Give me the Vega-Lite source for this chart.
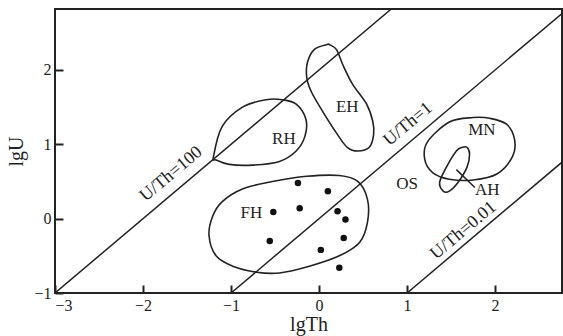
{
  "$schema": "https://vega.github.io/schema/vega-lite/v6.json",
  "autosize": "none",
  "width": 507,
  "height": 284,
  "padding": {"left": 55, "top": 9, "right": 1, "bottom": 43},
  "background": "white",
  "config": {
    "view": {"stroke": "#222", "strokeWidth": 2},
    "font": "Liberation Serif",
    "axis": {"grid": false, "domain": false, "tickColor": "#222", "tickWidth": 2, "tickSize": -8, "labelFont": "Liberation Serif", "labelFontSize": 16, "labelColor": "#222", "titleFont": "Liberation Serif", "titleFontSize": 20, "titleFontWeight": "normal", "titleColor": "#222", "format": "d"}
  },
  "datasets": {
    "lines": [
      {"ratio": "100", "x": -3, "y": -1}, {"ratio": "100", "x": 0.82, "y": 2.82},
      {"ratio": "1", "x": -1, "y": -1}, {"ratio": "1", "x": 2.76, "y": 2.76},
      {"ratio": "0.01", "x": 1, "y": -1}, {"ratio": "0.01", "x": 2.76, "y": 0.76},
      {"ratio": "AHleader", "x": 1.56, "y": 0.66}, {"ratio": "AHleader", "x": 1.77, "y": 0.42}
    ],
    "shapes": [
      {"shape": "RH", "i": 1, "x": -1.2, "y": 0.83},
      {"shape": "RH", "i": 2, "x": -1.1, "y": 1.24},
      {"shape": "RH", "i": 3, "x": -0.87, "y": 1.5},
      {"shape": "RH", "i": 4, "x": -0.6, "y": 1.6},
      {"shape": "RH", "i": 5, "x": -0.42, "y": 1.6},
      {"shape": "RH", "i": 6, "x": -0.26, "y": 1.54},
      {"shape": "RH", "i": 7, "x": -0.15, "y": 1.34},
      {"shape": "RH", "i": 8, "x": -0.16, "y": 1.11},
      {"shape": "RH", "i": 9, "x": -0.26, "y": 0.91},
      {"shape": "RH", "i": 10, "x": -0.45, "y": 0.77},
      {"shape": "RH", "i": 11, "x": -0.76, "y": 0.72},
      {"shape": "RH", "i": 12, "x": -1.02, "y": 0.73},
      {"shape": "RH", "i": 13, "x": -1.17, "y": 0.79},
      {"shape": "EH", "i": 1, "x": 0.085, "y": 2.34},
      {"shape": "EH", "i": 2, "x": -0.05, "y": 2.28},
      {"shape": "EH", "i": 3, "x": -0.13, "y": 2.11},
      {"shape": "EH", "i": 4, "x": -0.14, "y": 1.9},
      {"shape": "EH", "i": 5, "x": -0.085, "y": 1.7},
      {"shape": "EH", "i": 6, "x": 0.063, "y": 1.4},
      {"shape": "EH", "i": 7, "x": 0.21, "y": 1.13},
      {"shape": "EH", "i": 8, "x": 0.32, "y": 0.96},
      {"shape": "EH", "i": 9, "x": 0.44, "y": 0.91},
      {"shape": "EH", "i": 10, "x": 0.57, "y": 0.96},
      {"shape": "EH", "i": 11, "x": 0.62, "y": 1.13},
      {"shape": "EH", "i": 12, "x": 0.61, "y": 1.31},
      {"shape": "EH", "i": 13, "x": 0.54, "y": 1.54},
      {"shape": "EH", "i": 14, "x": 0.38, "y": 1.81},
      {"shape": "EH", "i": 15, "x": 0.27, "y": 2.07},
      {"shape": "EH", "i": 16, "x": 0.2, "y": 2.27},
      {"shape": "EH", "i": 17, "x": 0.12, "y": 2.34},
      {"shape": "FH", "i": 1, "x": -1.25, "y": -0.23},
      {"shape": "FH", "i": 2, "x": -1.21, "y": 0.03},
      {"shape": "FH", "i": 3, "x": -1.1, "y": 0.23},
      {"shape": "FH", "i": 4, "x": -0.87, "y": 0.4},
      {"shape": "FH", "i": 5, "x": -0.53, "y": 0.5},
      {"shape": "FH", "i": 6, "x": -0.14, "y": 0.57},
      {"shape": "FH", "i": 7, "x": 0.23, "y": 0.58},
      {"shape": "FH", "i": 8, "x": 0.44, "y": 0.5},
      {"shape": "FH", "i": 9, "x": 0.55, "y": 0.26},
      {"shape": "FH", "i": 10, "x": 0.55, "y": -0.05},
      {"shape": "FH", "i": 11, "x": 0.46, "y": -0.32},
      {"shape": "FH", "i": 12, "x": 0.23, "y": -0.5},
      {"shape": "FH", "i": 13, "x": -0.11, "y": -0.64},
      {"shape": "FH", "i": 14, "x": -0.45, "y": -0.73},
      {"shape": "FH", "i": 15, "x": -0.71, "y": -0.72},
      {"shape": "FH", "i": 16, "x": -0.98, "y": -0.64},
      {"shape": "FH", "i": 17, "x": -1.17, "y": -0.5},
      {"shape": "MN", "i": 1, "x": 1.75, "y": 1.36},
      {"shape": "MN", "i": 2, "x": 1.48, "y": 1.3},
      {"shape": "MN", "i": 3, "x": 1.23, "y": 1.03},
      {"shape": "MN", "i": 4, "x": 1.2, "y": 0.8},
      {"shape": "MN", "i": 5, "x": 1.29, "y": 0.62},
      {"shape": "MN", "i": 6, "x": 1.48, "y": 0.53},
      {"shape": "MN", "i": 7, "x": 1.75, "y": 0.52},
      {"shape": "MN", "i": 8, "x": 2.02, "y": 0.6},
      {"shape": "MN", "i": 9, "x": 2.2, "y": 0.84},
      {"shape": "MN", "i": 10, "x": 2.22, "y": 1.07},
      {"shape": "MN", "i": 11, "x": 2.13, "y": 1.27},
      {"shape": "MN", "i": 12, "x": 1.94, "y": 1.35},
      {"shape": "AH", "i": 1, "x": 1.63, "y": 0.96},
      {"shape": "AH", "i": 2, "x": 1.56, "y": 0.91},
      {"shape": "AH", "i": 3, "x": 1.45, "y": 0.7},
      {"shape": "AH", "i": 4, "x": 1.37, "y": 0.49},
      {"shape": "AH", "i": 5, "x": 1.41, "y": 0.37},
      {"shape": "AH", "i": 6, "x": 1.48, "y": 0.37},
      {"shape": "AH", "i": 7, "x": 1.58, "y": 0.49},
      {"shape": "AH", "i": 8, "x": 1.68, "y": 0.69},
      {"shape": "AH", "i": 9, "x": 1.71, "y": 0.87},
      {"shape": "AH", "i": 10, "x": 1.68, "y": 0.96}
    ],
    "samples": [
      {"x": -0.24, "y": 0.48},
      {"x": 0.1, "y": 0.37},
      {"x": -0.52, "y": 0.09},
      {"x": -0.22, "y": 0.14},
      {"x": 0.21, "y": 0.1},
      {"x": 0.3, "y": -0.01},
      {"x": 0.28, "y": -0.26},
      {"x": -0.56, "y": -0.3},
      {"x": 0.02, "y": -0.42},
      {"x": 0.23, "y": -0.66}
    ],
    "labels": [
      {"text": "RH", "x": -0.4, "y": 1.07},
      {"text": "EH", "x": 0.32, "y": 1.5},
      {"text": "MN", "x": 1.85, "y": 1.19},
      {"text": "OS", "x": 1.0, "y": 0.46},
      {"text": "FH", "x": -0.77, "y": 0.07},
      {"text": "AH", "x": 1.91, "y": 0.38}
    ],
    "lineLabels": [
      {"text": "U/Th=100", "x": -1.68, "y": 0.6},
      {"text": "U/Th=1", "x": 1.01, "y": 1.27},
      {"text": "U/Th=0.01", "x": 1.64, "y": -0.16}
    ]
  },
  "layer": [
    {
      "data": {"name": "lines"},
      "mark": {"type": "line", "stroke": "#222", "strokeWidth": 1.5, "clip": true},
      "encoding": {
        "x": {"field": "x", "type": "quantitative", "scale": {"domain": [-3, 2.76], "nice": false, "zero": false}, "axis": {"values": [-3, -2, -1, 0, 1, 2], "title": "lgTh", "labelPadding": 12, "titlePadding": 1}},
        "y": {"field": "y", "type": "quantitative", "scale": {"domain": [-1, 2.82], "nice": false, "zero": false}, "axis": {"values": [-1, 0, 1, 2], "title": "lgU", "labelPadding": 12, "titlePadding": 7}},
        "detail": {"field": "ratio"}
      }
    },
    {
      "data": {"name": "shapes"},
      "mark": {"type": "line", "stroke": "#222", "strokeWidth": 1.6, "interpolate": "cardinal-closed", "clip": true},
      "encoding": {
        "x": {"field": "x", "type": "quantitative"},
        "y": {"field": "y", "type": "quantitative"},
        "detail": {"field": "shape"},
        "order": {"field": "i", "type": "quantitative"}
      }
    },
    {
      "data": {"name": "samples"},
      "mark": {"type": "point", "filled": true, "color": "#111", "opacity": 1, "size": 42},
      "encoding": {
        "x": {"field": "x", "type": "quantitative"},
        "y": {"field": "y", "type": "quantitative"}
      }
    },
    {
      "data": {"name": "labels"},
      "mark": {"type": "text", "font": "Liberation Serif", "fontSize": 17, "color": "#222"},
      "encoding": {
        "x": {"field": "x", "type": "quantitative"},
        "y": {"field": "y", "type": "quantitative"},
        "text": {"field": "text"}
      }
    },
    {
      "data": {"name": "lineLabels"},
      "mark": {"type": "text", "font": "Liberation Serif", "fontSize": 18, "color": "#222", "angle": -40},
      "encoding": {
        "x": {"field": "x", "type": "quantitative"},
        "y": {"field": "y", "type": "quantitative"},
        "text": {"field": "text"}
      }
    }
  ]
}
